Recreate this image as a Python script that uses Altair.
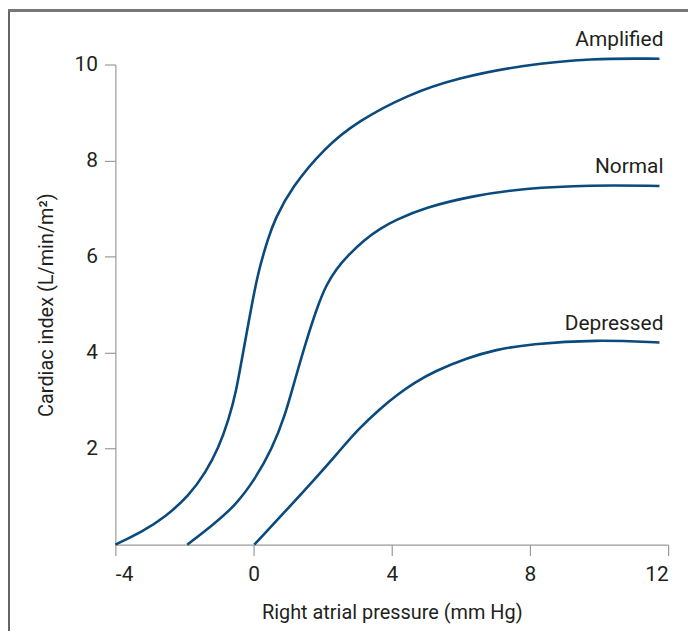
import altair as alt
import pandas as pd

# Right atrial pressure (mm Hg) / cardiac index (L/min/m2)
amp_x = [-4.0, -3.2, -2.55, -1.87, -1.39, -1.01, -0.72, -0.5, -0.33, -0.05, 0.14, 0.43, 0.62, 1.10, 2.06, 3.02, 4.46, 5.90, 7.82, 9.74, 11.75]
amp_y = [0.0, 0.28, 0.58, 1.02, 1.50, 2.02, 2.60, 3.20, 3.90, 5.00, 5.70, 6.40, 6.78, 7.44, 8.27, 8.82, 9.37, 9.72, 9.99, 10.13, 10.12]

norm_x = [-1.92, -1.20, -0.53, 0.05, 0.53, 0.91, 1.20, 1.53, 1.87, 2.1, 2.4, 2.73, 3.2, 3.7, 4.08, 4.94, 6.38, 7.82, 9.74, 11.75]
norm_y = [0.0, 0.40, 0.81, 1.37, 1.99, 2.68, 3.44, 4.26, 5.0, 5.4, 5.75, 6.02, 6.35, 6.6, 6.75, 7.02, 7.27, 7.42, 7.49, 7.47]

dep_x = [0.02, 0.81, 1.78, 2.45, 3.02, 3.69, 4.17, 4.65, 5.23, 6.19, 7.0, 8.0, 9.9, 11.75]
dep_y = [0.0, 0.61, 1.37, 1.92, 2.40, 2.85, 3.13, 3.37, 3.61, 3.89, 4.06, 4.18, 4.27, 4.21]

series_names = ["Amplified", "Normal", "Depressed"]
x_ticks = [-4, 0, 4, 8, 12]
y_ticks = [2, 4, 6, 8, 10]

rows = []
for name, xs, ys in zip(series_names, [amp_x, norm_x, dep_x], [amp_y, norm_y, dep_y]):
    for i, (a, b) in enumerate(zip(xs, ys)):
        rows.append({"series": name, "x": a, "y": b, "order": i})
df = pd.DataFrame(rows)
labels_df = df.sort_values("order").groupby("series").tail(1)

FONT = "Roboto, Liberation Sans, sans-serif"
LINE = "#0a4a7c"
TEXT = "#231f20"
AXIS = "#9a9a9a"

xs = alt.X("x:Q", scale=alt.Scale(domain=[-4, 12], nice=False),
           axis=alt.Axis(values=x_ticks, title="Right atrial pressure (mm Hg)", grid=False,
                         labelExpr="'' + datum.value",
                         tickSize=11, labelPadding=8, titlePadding=18))
ys = alt.Y("y:Q", scale=alt.Scale(domain=[0, 10], nice=False),
           axis=alt.Axis(values=y_ticks, title="Cardiac index (L/min/m²)", grid=False,
                         tickSize=11, labelPadding=7, titlePadding=18))

lines = alt.Chart(df).mark_line(color=LINE, strokeWidth=2.6, interpolate="basis").encode(
    x=xs, y=ys, detail="series:N", order="order:Q")

texts = alt.Chart(labels_df).mark_text(align="right", baseline="alphabetic", dx=4, dy=-13,
                                       fontSize=21, font=FONT, color=TEXT).encode(
    x="x:Q", y="y:Q", text="series:N")

frame_left = alt.Chart(df).mark_rule(color="#666666", strokeWidth=1.5, clip=False).encode(
    x=alt.value(-107.25), y=alt.value(-54.25), y2=alt.value(580))
frame_top = alt.Chart(df).mark_rule(color="#777777", strokeWidth=1.5, clip=False).encode(
    x=alt.value(-107.25), x2=alt.value(590), y=alt.value(-54.25))

chart = alt.layer(frame_left, frame_top, lines, texts).properties(
    width=556, height=483,
    padding={"left": 108, "top": 55, "right": 20, "bottom": 85},
    autosize=alt.AutoSizeParams(type="none"),
).configure_view(stroke=None).configure_axis(
    domainColor=AXIS, tickColor=AXIS, domainWidth=1.2, tickWidth=1.2,
    labelFont=FONT, titleFont=FONT, labelFontSize=21, titleFontSize=20,
    labelColor=TEXT, titleColor=TEXT, titleFontWeight="normal",
)

chart.save("out.html", embed_options={"renderer": "svg", "actions": False})
